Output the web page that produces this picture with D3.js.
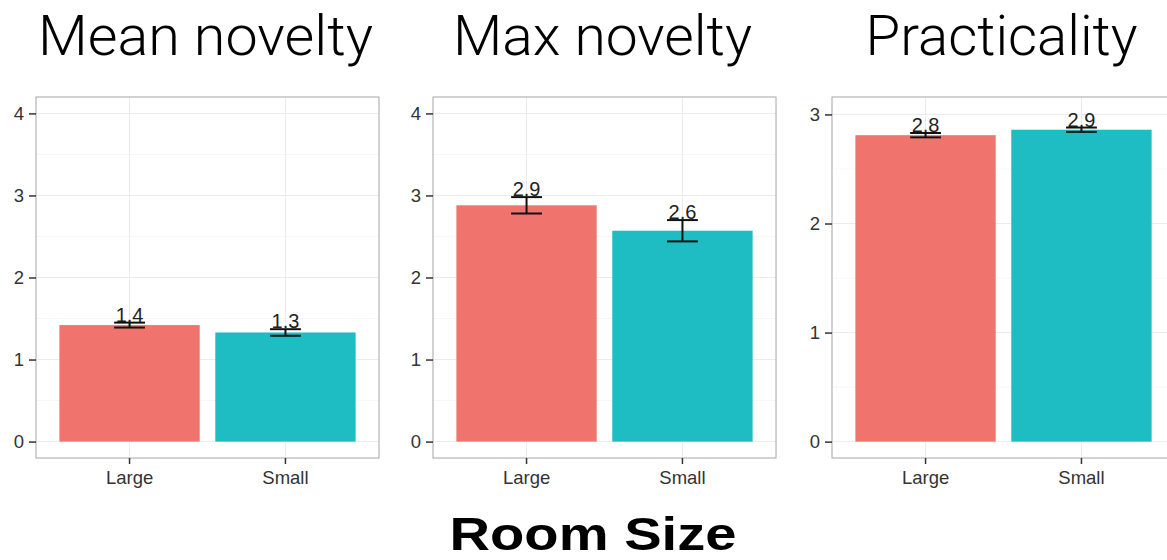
<!DOCTYPE html>
<html lang="en">
<head>
    <meta charset="UTF-8">
    <title>Room size bar charts</title>
    <script src="https://d3js.org/d3.v7.min.js"></script>
    <style>
        body {
            margin: 0;
            background: #fff;
            font-family: "Liberation Sans", Arial, sans-serif;
        }
        .panel-title {
            font-family: Roboto, "Liberation Sans", sans-serif;
            font-size: 56px;
            font-weight: 300;
            fill: #000;
        }
        .tick-label {
            font-size: 18.5px;
            fill: #333;
        }
        .value-label {
            font-size: 20px;
            fill: #222;
        }
    </style>
</head>
<body>

<svg id="chart" width="1167" height="560"></svg>

<script>
    // Data
    const categories = ["Large", "Small"];
    const panelTitles = ["Mean novelty", "Max novelty", "Practicality"];
    const meanNovelty = [1.42, 1.33];
    const meanNoveltyErr = [0.03, 0.04];
    const maxNovelty = [2.88, 2.57];
    const maxNoveltyErr = [0.10, 0.13];
    const practicality = [2.81, 2.86];
    const practicalityErr = [0.02, 0.02];
    const yTicks = [[0, 1, 2, 3, 4], [0, 1, 2, 3, 4], [0, 1, 2, 3]];
    const xTitle = "Room Size";

    const panelValues = [meanNovelty, maxNovelty, practicality];
    const panelErrors = [meanNoveltyErr, maxNoveltyErr, practicalityErr];
    const yDomains = [[-0.2, 4.2], [-0.2, 4.2], [-0.15, 3.16]];

    const colors = d3.scaleOrdinal().domain(categories).range(["#f0736d", "#1ebcc3"]);

    const panelLeft = [36, 433, 832];
    const panelWidth = 343;
    const panelTop = 97;
    const panelBottom = 458;
    const titleWidths = [335, 299, 272];

    const svg = d3.select("#chart");

    panelTitles.forEach((title, p) => {
        const g = svg.append("g").attr("transform", `translate(${panelLeft[p]},0)`);

        const x = d3.scaleBand()
            .domain(categories)
            .range([0, panelWidth])
            .paddingInner(0.1)
            .paddingOuter(0.15);

        const y = d3.scaleLinear()
            .domain(yDomains[p])
            .range([panelBottom, panelTop]);

        // minor grid (half steps)
        const ticks = yTicks[p];
        const minor = ticks.slice(1).map(t => t - 0.5);
        g.selectAll(".minor").data(minor).enter().append("line")
            .attr("x1", 0).attr("x2", panelWidth)
            .attr("y1", d => y(d)).attr("y2", d => y(d))
            .attr("stroke", "#f7f7f7");

        // major grid
        g.selectAll(".hgrid").data(ticks).enter().append("line")
            .attr("x1", 0).attr("x2", panelWidth)
            .attr("y1", d => y(d)).attr("y2", d => y(d))
            .attr("stroke", "#ebebeb");
        g.selectAll(".vgrid").data(categories).enter().append("line")
            .attr("x1", d => x(d) + x.bandwidth() / 2).attr("x2", d => x(d) + x.bandwidth() / 2)
            .attr("y1", panelTop).attr("y2", panelBottom)
            .attr("stroke", "#ebebeb");

        // bars
        g.selectAll(".bar").data(categories).enter().append("rect")
            .attr("x", d => x(d))
            .attr("width", x.bandwidth())
            .attr("y", (d, i) => y(panelValues[p][i]))
            .attr("height", (d, i) => y(0) - y(panelValues[p][i]))
            .attr("fill", d => colors(d));

        // value labels
        g.selectAll(".value-label").data(categories).enter().append("text")
            .attr("class", "value-label")
            .attr("x", d => x(d) + x.bandwidth() / 2)
            .attr("y", (d, i) => y(panelValues[p][i] + panelErrors[p][i]) - 1)
            .attr("text-anchor", "middle")
            .text((d, i) => d3.format(".1f")(panelValues[p][i]));

        // error bars
        const capW = x.bandwidth() * 0.22;
        categories.forEach((c, i) => {
            const cx = x(c) + x.bandwidth() / 2;
            const lo = y(panelValues[p][i] - panelErrors[p][i]);
            const hi = y(panelValues[p][i] + panelErrors[p][i]);
            const eb = g.append("g").attr("stroke", "#111").attr("stroke-width", 2);
            eb.append("line").attr("x1", cx).attr("x2", cx).attr("y1", lo).attr("y2", hi);
            eb.append("line").attr("x1", cx - capW / 2).attr("x2", cx + capW / 2).attr("y1", lo).attr("y2", lo);
            eb.append("line").attr("x1", cx - capW / 2).attr("x2", cx + capW / 2).attr("y1", hi).attr("y2", hi);
        });

        // panel border
        g.append("rect")
            .attr("x", 0).attr("y", panelTop)
            .attr("width", panelWidth).attr("height", panelBottom - panelTop)
            .attr("fill", "none")
            .attr("stroke", "#a6a6a6");

        // y axis
        const yAxis = g.append("g")
            .call(d3.axisLeft(y).tickValues(ticks).tickSize(7).tickPadding(5).tickFormat(d3.format("d")));
        yAxis.select(".domain").remove();
        yAxis.selectAll("line").attr("stroke", "#333").attr("stroke-width", 1.5);
        yAxis.selectAll("text").attr("class", "tick-label");
        yAxis.attr("font-size", null).attr("font-family", null);

        // x axis
        const xAxis = g.append("g")
            .attr("transform", `translate(0,${panelBottom})`)
            .call(d3.axisBottom(x).tickSize(6).tickPadding(7));
        xAxis.select(".domain").remove();
        xAxis.selectAll("line").attr("stroke", "#333").attr("stroke-width", 1.5);
        xAxis.selectAll("text").attr("class", "tick-label");
        xAxis.attr("font-size", null).attr("font-family", null);

        // panel title
        svg.append("text")
            .attr("class", "panel-title")
            .attr("x", panelLeft[p] + panelWidth / 2 - 2)
            .attr("y", 55)
            .attr("text-anchor", "middle")
            .attr("textLength", titleWidths[p])
            .attr("lengthAdjust", "spacingAndGlyphs")
            .text(title);
    });

    // shared x axis title
    svg.append("text")
        .attr("x", 593)
        .attr("y", 550)
        .attr("text-anchor", "middle")
        .attr("textLength", 287)
        .attr("lengthAdjust", "spacingAndGlyphs")
        .style("font-size", "47px")
        .style("font-weight", "bold")
        .style("fill", "#000")
        .text(xTitle);
</script>

</body>
</html>
